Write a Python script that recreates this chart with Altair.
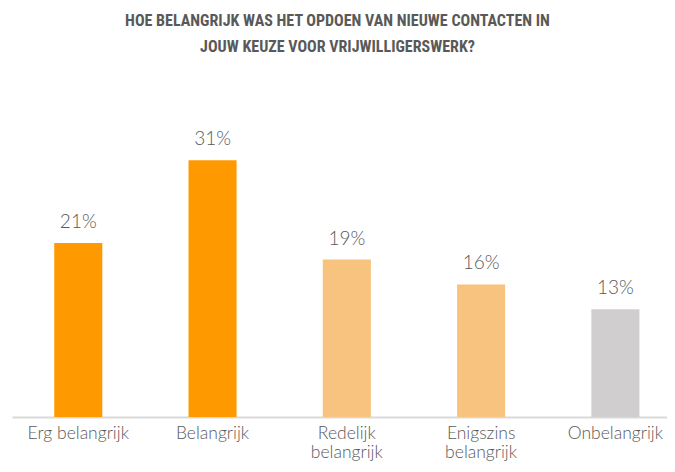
import altair as alt
import pandas as pd

categories = ["Erg belangrijk", "Belangrijk", "Redelijk belangrijk", "Enigszins belangrijk", "Onbelangrijk"]
values = [21, 31, 19, 16, 13]
colors = ["#FF9900", "#FF9900", "#F8C27F", "#F8C27F", "#D0CECE"]
title_lines = ["HOE BELANGRIJK WAS HET OPDOEN VAN NIEUWE CONTACTEN IN",
               "JOUW KEUZE VOOR VRIJWILLIGERSWERK?"]

df = pd.DataFrame({"cat": categories, "val": values, "col": colors,
                   "lbl": [f"{v}%" for v in values]})

TEXT = "#595959"
LABEL_FONT = "Lato"

x = alt.X("cat:N", sort=categories, title=None,
          scale=alt.Scale(paddingInner=0.642, paddingOuter=0.26, align=0.605),
          axis=alt.Axis(labelAngle=0, ticks=False, domainColor="#D9D9D9", domainWidth=2,
                        labelFont=LABEL_FONT, labelFontWeight=300, labelFontSize=17.5,
                        labelColor=TEXT, labelPadding=7, labelLineHeight=19.5,
                        labelBaseline="top", labelLimit=200,
                        labelExpr="datum.label == 'Redelijk belangrijk' || datum.label == 'Enigszins belangrijk' ? split(datum.label, ' ') : datum.label"))
y = alt.Y("val:Q", title=None, scale=alt.Scale(domain=[0, 35], nice=False),
          axis=None)

base = alt.Chart(df)
bars = base.mark_bar().encode(x=x, y=y, color=alt.Color("col:N", scale=None))
labels = base.mark_text(dy=-21, font=LABEL_FONT, fontWeight=300, fontSize=19,
                        color=TEXT).encode(x=x, y=y, text="lbl:N")

chart = (bars + labels).properties(
    width=655, height=290,
    autosize=alt.AutoSizeParams(type="none"),
    padding={"left": 4, "top": 119, "right": 0, "bottom": 46},
    title=alt.TitleParams(text=title_lines, anchor="middle", dx=-2, offset=72,
                          font="Roboto Condensed, DejaVu Sans Condensed, Liberation Sans Narrow, Roboto, sans-serif",
                          fontWeight="bold",
                          fontSize=16, color=TEXT, lineHeight=26),
).configure_view(stroke=None)

chart.save("out.html", embed_options={"renderer": "svg", "actions": False})
